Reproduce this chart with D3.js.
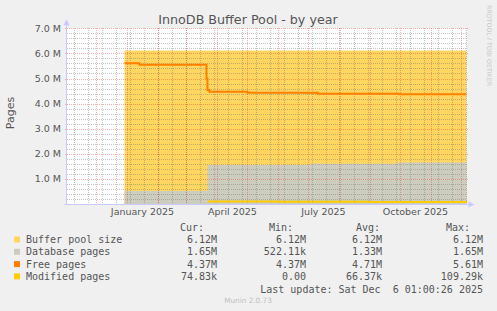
<!DOCTYPE html>
<html>
<head>
<meta charset="utf-8">
<script src="https://cdn.jsdelivr.net/npm/d3@7"></script>
<style>
  body { margin: 0; background: #f0f0f0; }
  svg { display: block; }
</style>
</head>
<body>
<div id="chart"></div>
<script>
// series (values in pages)
let poolDates = ["2024-12-29", "2025-12-06T01:00"];
let poolValues = [6.12e6, 6.12e6];

let dbDates = ["2024-12-29", "2025-03-22", "2025-07-03", "2025-09-28", "2025-12-06T01:00"];
let dbValues = [0.52e6, 1.55e6, 1.60e6, 1.65e6, 1.65e6];

let freeDates = ["2024-12-29", "2025-01-13", "2025-03-21", "2025-03-22", "2025-03-24", "2025-05-01", "2025-07-10", "2025-09-30", "2025-12-06T01:00"];
let freeValues = [5.61e6, 5.55e6, 5.00e6, 4.54e6, 4.47e6, 4.43e6, 4.39e6, 4.37e6, 4.37e6];

let modDates = ["2025-03-22", "2025-06-01", "2025-09-01", "2025-12-06T01:00"];
let modValues = [0.10e6, 0.09e6, 0.08e6, 0.075e6];

let legendNames = ["Buffer pool size", "Database pages", "Free pages", "Modified pages"];
let legendColors = ["#ffd660", "#cdcdbf", "#ff7f00", "#ffcc00"];
let statCur = ["6.12M", "1.65M", "4.37M", "74.83k"];
let statMin = ["6.12M", "522.11k", "4.37M", "0.00"];
let statAvg = ["6.12M", "1.33M", "4.71M", "66.37k"];
let statMax = ["6.12M", "1.65M", "5.61M", "109.29k"];

let yTicks = [1e6, 2e6, 3e6, 4e6, 5e6, 6e6, 7e6];
let endTime = "2025-12-06T01:00";

let width = 497, height = 311;
let parse = d3.utcParse("%Y-%m-%dT%H:%M");
let parseDay = d3.utcParse("%Y-%m-%d");
let toDate = function (s) { return s.length > 10 ? parse(s) : parseDay(s); };

let end = toDate(endTime);
let start = d3.utcDay.offset(end, -400);

let x = d3.scaleUtc().domain([start, end]).range([66.5, 466.5]);
let y = d3.scaleLinear().domain([0, 7e6]).range([204, 28.3]);

let svg = d3.select("#chart").append("svg")
    .attr("width", width)
    .attr("height", height);

svg.append("rect").attr("width", width).attr("height", height).style("fill", "#f0f0f0");
svg.append("rect")
    .attr("x", x.range()[0]).attr("y", y(7e6))
    .attr("width", x.range()[1] - x.range()[0]).attr("height", y(0) - y(7e6))
    .style("fill", "white");

let toPoints = function (dates, values) {
    return dates.map(function (d, i) { return [toDate(d), values[i]]; });
};

let area = d3.area()
    .curve(d3.curveStepAfter)
    .x(function (d) { return x(d[0]); })
    .y0(y(0))
    .y1(function (d) { return y(d[1]); });

let stepLine = d3.line()
    .curve(d3.curveStepAfter)
    .x(function (d) { return x(d[0]); })
    .y(function (d) { return y(d[1]); });

svg.append("path").datum(toPoints(poolDates, poolValues)).attr("d", area).style("fill", legendColors[0]);
svg.append("path").datum(toPoints(dbDates, dbValues)).attr("d", area).style("fill", legendColors[1]);

// grid (drawn over the areas, like rrdtool)
let minorColor = "rgba(110,110,110,0.4)";
let majorColor = "rgba(230,50,50,0.38)";
let grid = svg.append("g").attr("shape-rendering", "crispEdges");
let refSat = parseDay("2024-12-07");
let minorDays = d3.utcDay.range(start, end).filter(function (d) {
    let n = d3.utcDay.count(refSat, d);
    return ((n % 14) + 14) % 14 === 0;
});
grid.selectAll().data(minorDays).enter().append("line")
    .attr("x1", function (d) { return Math.round(x(d)) + 0.5; })
    .attr("x2", function (d) { return Math.round(x(d)) + 0.5; })
    .attr("y1", y(7e6)).attr("y2", y(0))
    .style("stroke", minorColor).style("stroke-dasharray", "1,1");

let minorY = d3.range(1, 35).map(function (i) { return i * 0.2e6; }).filter(function (v) { return Math.round(v / 1e5) % 10 !== 0; });
grid.selectAll().data(minorY).enter().append("line")
    .attr("x1", x.range()[0]).attr("x2", x.range()[1])
    .attr("y1", function (d) { return Math.round(y(d)) + 0.5; })
    .attr("y2", function (d) { return Math.round(y(d)) + 0.5; })
    .style("stroke", minorColor).style("stroke-dasharray", "1,1");

let months = d3.utcMonth.range(start, end);
grid.selectAll().data(months).enter().append("line")
    .attr("x1", function (d) { return Math.round(x(d)) + 0.5; })
    .attr("x2", function (d) { return Math.round(x(d)) + 0.5; })
    .attr("y1", y(7e6)).attr("y2", y(0) + 2)
    .style("stroke", majorColor).style("stroke-dasharray", "1,1");

grid.selectAll().data(yTicks).enter().append("line")
    .attr("x1", x.range()[0] - 2).attr("x2", x.range()[1] + 1)
    .attr("y1", function (d) { return Math.round(y(d)) + 0.5; })
    .attr("y2", function (d) { return Math.round(y(d)) + 0.5; })
    .style("stroke", majorColor).style("stroke-dasharray", "1,1");

// axes
let axisColor = "#c8c8ff";
svg.append("line")
    .attr("x1", x.range()[0]).attr("x2", x.range()[0])
    .attr("y1", y(0)).attr("y2", y(7e6) - 4)
    .style("stroke", axisColor);
svg.append("line")
    .attr("x1", x.range()[0] - 2).attr("x2", x.range()[1] + 3)
    .attr("y1", y(0) + 0.5).attr("y2", y(0) + 0.5)
    .style("stroke", axisColor);
svg.append("path")
    .attr("d", "M" + (x.range()[0] - 3) + "," + (y(7e6) - 3) + "l3,-6l3,6z")
    .style("fill", axisColor);
svg.append("path")
    .attr("d", "M" + (x.range()[1] + 2) + "," + (y(0) - 2.5) + "l6,3l-6,3z")
    .style("fill", axisColor);

// lines
svg.append("path").datum(toPoints(freeDates, freeValues))
    .attr("d", stepLine).style("fill", "none")
    .style("stroke", legendColors[2]).style("stroke-width", 2);
svg.append("path").datum(toPoints(modDates, modValues))
    .attr("d", stepLine)
    .style("fill", "none")
    .style("stroke", legendColors[3]).style("stroke-width", 2);

// tick labels
let labelFont = "DejaVu Sans, sans-serif";
svg.selectAll().data(yTicks).enter().append("text")
    .attr("x", 61).attr("y", function (d) { return y(d) + 3.5; })
    .attr("text-anchor", "end")
    .style("font-family", labelFont).style("font-size", "9.5px").style("fill", "#555")
    .text(function (d) { return d3.format(".1f")(d / 1e6) + " M"; });

let quarterLabels = d3.utcMonth.every(3).range(start, end);
let fmt = d3.utcFormat("%B %Y");
svg.selectAll().data(quarterLabels).enter().append("text")
    .attr("x", function (d) { return x(d3.utcDay.offset(d, 15)); })
    .attr("y", 214.5)
    .attr("text-anchor", "middle")
    .style("font-family", labelFont).style("font-size", "9.5px").style("fill", "#555")
    .text(function (d) { return fmt(d); });

// titles
svg.append("text")
    .attr("x", 248).attr("y", 24)
    .attr("text-anchor", "middle")
    .style("font-family", labelFont).style("font-size", "12.7px").style("fill", "#555")
    .text("InnoDB Buffer Pool - by year");

svg.append("text")
    .attr("transform", "translate(14,113) rotate(-90)")
    .attr("text-anchor", "middle")
    .style("font-family", labelFont).style("font-size", "11px").style("fill", "#555")
    .text("Pages");

svg.append("text")
    .attr("transform", "translate(486.5,5) rotate(90)")
    .style("font-family", labelFont).style("font-size", "6.3px").style("fill", "#c8c8c8")
    .text("RRDTOOL / TOBI OETIKER");

svg.append("text")
    .attr("x", 248).attr("y", 302.5)
    .attr("text-anchor", "middle")
    .style("font-family", labelFont).style("font-size", "7.3px").style("fill", "#c0c0c0")
    .text("Munin 2.0.73");

// legend
let mono = "DejaVu Sans Mono, monospace";
let legend = svg.append("g")
    .style("font-family", mono).style("font-size", "10px").style("fill", "#555");

let headers = [["Cur:", 204], ["Min:", 293], ["Avg:", 380], ["Max:", 470]];
legend.selectAll().data(headers).enter().append("text")
    .attr("x", function (d) { return d[1]; }).attr("y", 230.5)
    .attr("text-anchor", "end")
    .text(function (d) { return d[0]; });

let rowY = function (i) { return 243 + i * 12.3; };
legend.selectAll().data(legendColors).enter().append("rect")
    .attr("x", 14).attr("y", function (d, i) { return rowY(i) - 6.5; })
    .attr("width", 6).attr("height", 6)
    .style("fill", function (d) { return d; });

legend.selectAll().data(legendNames).enter().append("text")
    .attr("x", 26).attr("y", function (d, i) { return rowY(i); })
    .text(function (d) { return d; });

let columns = [[statCur, 217], [statMin, 306], [statAvg, 382], [statMax, 483]];
columns.forEach(function (col) {
    legend.selectAll().data(col[0]).enter().append("text")
        .attr("x", col[1]).attr("y", function (d, i) { return rowY(i); })
        .attr("text-anchor", "end")
        .text(function (d) { return d; });
});

legend.append("text")
    .attr("x", 483).attr("y", rowY(4) + 0.5)
    .attr("text-anchor", "end")
    .style("white-space", "pre")
    .attr("xml:space", "preserve")
    .text("Last update: Sat Dec  6 01:00:26 2025");
</script>
</body>
</html>
